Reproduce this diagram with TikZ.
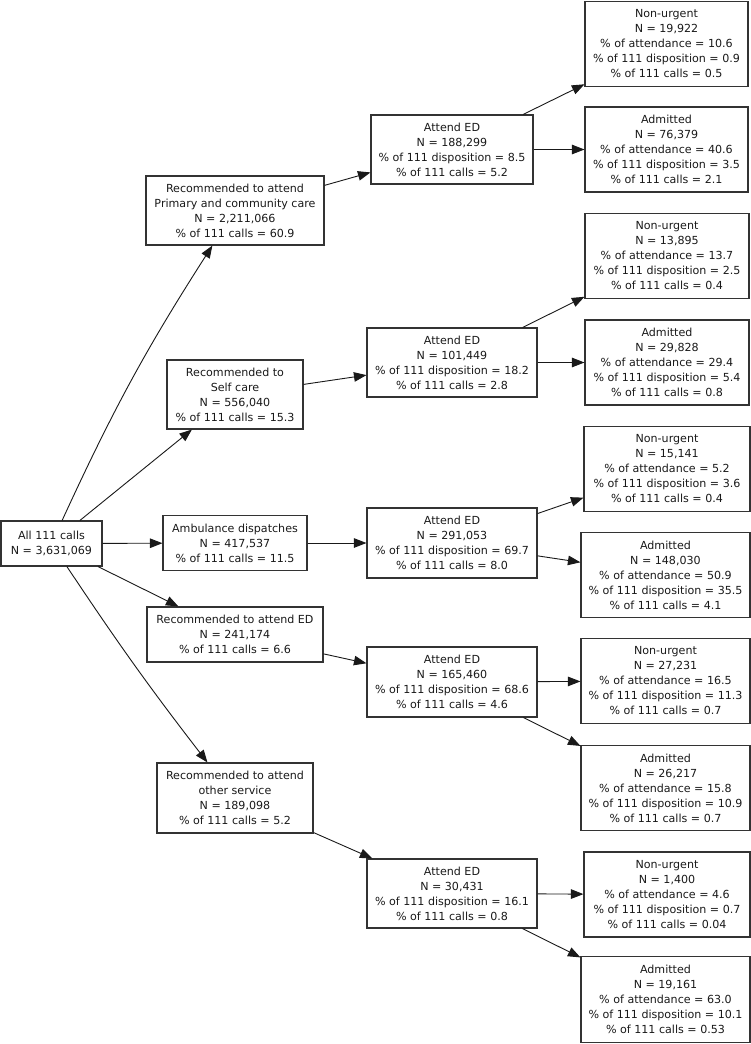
\documentclass[tikz,border=0pt]{standalone}
\usepackage{fontspec}
\setmainfont{DejaVu Sans}
\usetikzlibrary{arrows.meta}

\begin{document}
\begin{tikzpicture}[
  x = 1pt, y = -1pt,
  box/.style   = {draw=black!80, line width=1.1pt, align=center,
                  inner sep=0pt, text=black!90, minimum height=69pt,
                  font=\fontsize{11.1}{15}\selectfont},
  small/.style = {box, minimum height=55pt},
  outc/.style  = {box, minimum height=85pt},
  arr/.style   = {-{Triangle[length=12.5pt,width=9.5pt]}, line width=0.9pt,
                  draw=black!90}
]
\useasboundingbox (0,0) rectangle (751,1044);

% first split of the calls
\node[box, minimum width=101pt, minimum height=45pt] (all) at (51.5,543.5)
  {All 111 calls\\N = 3,631,069};
\node[box, minimum width=178pt] (primary) at (235,210.5)
  {Recommended to attend\\Primary and community care\\N = 2,211,066\\\% of 111 calls = 60.9};
\node[box, minimum width=136pt] (selfcare) at (235,394.5)
  {Recommended to\\Self care\\N = 556,040\\\% of 111 calls = 15.3};
\node[small, minimum width=144pt] (ambulance) at (235,543)
  {Ambulance dispatches\\N = 417,537\\\% of 111 calls = 11.5};
\node[small, minimum width=176pt] (edrec) at (235,634.5)
  {Recommended to attend ED\\N = 241,174\\\% of 111 calls = 6.6};
\node[box, minimum width=156pt, minimum height=70pt] (other) at (235,798)
  {Recommended to attend\\other service\\N = 189,098\\\% of 111 calls = 5.2};

% ED attendances
\node[box, minimum width=162pt] (aedA) at (452,149.5)
  {Attend ED\\N = 188,299\\\% of 111 disposition = 8.5\\\% of 111 calls = 5.2};
\node[box, minimum width=170pt] (aedB) at (452,362.5)
  {Attend ED\\N = 101,449\\\% of 111 disposition = 18.2\\\% of 111 calls = 2.8};
\node[box, minimum width=170pt, minimum height=70pt] (aedC) at (452,543)
  {Attend ED\\N = 291,053\\\% of 111 disposition = 69.7\\\% of 111 calls = 8.0};
\node[box, minimum width=170pt, minimum height=70pt] (aedD) at (452,682)
  {Attend ED\\N = 165,460\\\% of 111 disposition = 68.6\\\% of 111 calls = 4.6};
\node[box, minimum width=170pt] (aedE) at (452,893.5)
  {Attend ED\\N = 30,431\\\% of 111 disposition = 16.1\\\% of 111 calls = 0.8};

% outcomes
\node[outc, minimum width=163pt] (nuA) at (666.5,44)
  {Non-urgent\\N = 19,922\\\% of attendance = 10.6\\\% of 111 disposition = 0.9\\\% of 111 calls = 0.5};
\node[outc, minimum width=163pt] (adA) at (666.5,149.5)
  {Admitted\\N = 76,379\\\% of attendance = 40.6\\\% of 111 disposition = 3.5\\\% of 111 calls = 2.1};
\node[outc, minimum width=164pt] (nuB) at (667,256)
  {Non-urgent\\N = 13,895\\\% of attendance = 13.7\\\% of 111 disposition = 2.5\\\% of 111 calls = 0.4};
\node[outc, minimum width=164pt] (adB) at (667,362.5)
  {Admitted\\N = 29,828\\\% of attendance = 29.4\\\% of 111 disposition = 5.4\\\% of 111 calls = 0.8};
\node[outc, minimum width=166pt] (nuC) at (667,469)
  {Non-urgent\\N = 15,141\\\% of attendance = 5.2\\\% of 111 disposition = 3.6\\\% of 111 calls = 0.4};
\node[outc, minimum width=169pt] (adC) at (665.5,575)
  {Admitted\\N = 148,030\\\% of attendance = 50.9\\\% of 111 disposition = 35.5\\\% of 111 calls = 4.1};
\node[outc, minimum width=169pt] (nuD) at (665.5,681)
  {Non-urgent\\N = 27,231\\\% of attendance = 16.5\\\% of 111 disposition = 11.3\\\% of 111 calls = 0.7};
\node[outc, minimum width=169pt] (adD) at (665.5,788)
  {Admitted\\N = 26,217\\\% of attendance = 15.8\\\% of 111 disposition = 10.9\\\% of 111 calls = 0.7};
\node[outc, minimum width=166pt] (nuE) at (667,894.5)
  {Non-urgent\\N = 1,400\\\% of attendance = 4.6\\\% of 111 disposition = 0.7\\\% of 111 calls = 0.04};
\node[outc, minimum width=169pt, minimum height=86pt] (adE) at (665.5,999.5)
  {Admitted\\N = 19,161\\\% of attendance = 63.0\\\% of 111 disposition = 10.1\\\% of 111 calls = 0.53};

% connectors
\draw[arr] (all) to[bend left=4] (primary);
\draw[arr] (all) -- (selfcare);
\draw[arr] (all) -- (ambulance);
\draw[arr] (all) -- (edrec);
\draw[arr] (all) to[bend right=2] (other);

\draw[arr] (primary)   -- (aedA);
\draw[arr] (selfcare)  -- (aedB);
\draw[arr] (ambulance) -- (aedC);
\draw[arr] (edrec)     -- (aedD);
\draw[arr] (other)     -- (aedE);

\draw[arr] (aedA) -- (nuA);
\draw[arr] (aedA) -- (adA);
\draw[arr] (aedB) -- (nuB);
\draw[arr] (aedB) -- (adB);
\draw[arr] (aedC) -- (nuC);
\draw[arr] (aedC) -- (adC);
\draw[arr] (aedD) -- (nuD);
\draw[arr] (aedD) -- (adD);
\draw[arr] (aedE) -- (nuE);
\draw[arr] (aedE) -- (adE);

\end{tikzpicture}
\end{document}
